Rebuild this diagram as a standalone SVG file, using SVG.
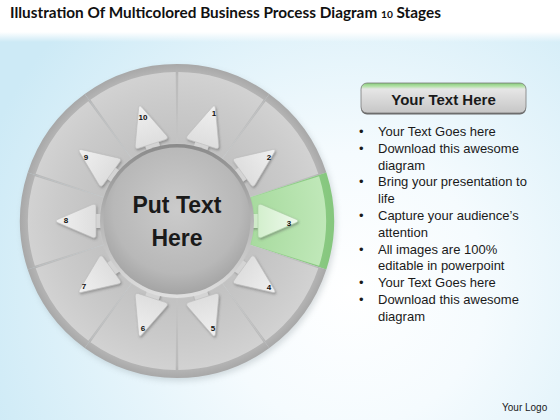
<svg xmlns="http://www.w3.org/2000/svg" width="560" height="420" viewBox="0 0 560 420">
<defs>
<style>
.t{font-family:"Liberation Sans","Arimo",sans-serif;fill:#1a1a1a}
.num{font-family:"Liberation Sans",sans-serif;font-size:8px;font-weight:bold;fill:#111;text-anchor:middle}
.bul{font-family:"Liberation Sans",sans-serif;font-size:13px;fill:#1a1a1a}
.frame{fill:url(#frameG)}
.panel{fill:url(#panelG)}
.gframe{fill:url(#gframeG)}
.gpanel{fill:url(#gpanelG)}
.arrow{fill:url(#arrowG);stroke:#bdbdbd;stroke-width:0.6}
.garrow{fill:url(#garrowG);stroke:#a9cfa3;stroke-width:0.6}
.tab{fill:#d4d4d4}
.gtab{fill:#cfeac9}
</style>
<radialGradient id="bg" gradientUnits="userSpaceOnUse" cx="350" cy="290" r="390">
<stop offset="0" stop-color="#ffffff"/><stop offset="0.35" stop-color="#f5fbfe"/><stop offset="1" stop-color="#cdeaf6"/>
</radialGradient>
<linearGradient id="fade" x1="0" y1="0" x2="0" y2="1"><stop offset="0" stop-color="#fff"/><stop offset="1" stop-color="#fff" stop-opacity="0"/></linearGradient>
<radialGradient id="frameG" gradientUnits="userSpaceOnUse" cx="0" cy="0" r="157">
<stop offset="0.5" stop-color="#c4c4c4"/><stop offset="0.92" stop-color="#bbbbbb"/><stop offset="1" stop-color="#a8a8a8"/>
</radialGradient>
<radialGradient id="panelG" gradientUnits="userSpaceOnUse" cx="0" cy="0" r="157">
<stop offset="0.5" stop-color="#c2c2c2"/><stop offset="0.75" stop-color="#cacaca"/><stop offset="0.95" stop-color="#d2d2d2"/>
</radialGradient>
<radialGradient id="gframeG" gradientUnits="userSpaceOnUse" cx="0" cy="0" r="157">
<stop offset="0.5" stop-color="#a2d69a"/><stop offset="1" stop-color="#86c77e"/>
</radialGradient>
<radialGradient id="gpanelG" gradientUnits="userSpaceOnUse" cx="0" cy="0" r="157">
<stop offset="0.5" stop-color="#a8db9f"/><stop offset="1" stop-color="#c2e9bb"/>
</radialGradient>
<linearGradient id="arrowG" x1="0" y1="0" x2="1" y2="0"><stop offset="0" stop-color="#dedede"/><stop offset="1" stop-color="#f0f0f0"/></linearGradient>
<linearGradient id="garrowG" x1="0" y1="0" x2="1" y2="0"><stop offset="0" stop-color="#d3efcd"/><stop offset="1" stop-color="#eef9ec"/></linearGradient>
<linearGradient id="ringG" x1="0" y1="0" x2="0" y2="1"><stop offset="0" stop-color="#8a8a8a"/><stop offset="1" stop-color="#e0e0e0"/></linearGradient>
<radialGradient id="diskG" cx="50%" cy="42%" r="58%"><stop offset="0" stop-color="#cbcbcb"/><stop offset="0.75" stop-color="#b8b8b8"/><stop offset="1" stop-color="#a4a4a4"/></radialGradient>
<linearGradient id="btnG" x1="0" y1="0" x2="0" y2="1">
<stop offset="0" stop-color="#86cc78"/><stop offset="0.12" stop-color="#b8e2ad"/><stop offset="0.2" stop-color="#e6e6e6"/><stop offset="1" stop-color="#c6c6c6"/>
</linearGradient>
<filter id="ds" x="-30%" y="-30%" width="160%" height="160%"><feDropShadow dx="1" dy="1.5" stdDeviation="1" flood-color="#555" flood-opacity="0.45"/></filter>
<filter id="blur" x="-10%" y="-10%" width="120%" height="120%"><feGaussianBlur stdDeviation="3"/></filter>
<path id="sec" d="M70.38,-22.87 L149.32,-48.51 A157,157 0 0 1 149.32,48.51 L70.38,22.87 A74,74 0 0 0 70.38,-22.87 Z"/>
<path id="pan" d="M74.39,-23.46 L142.1,-44.8 A149,149 0 0 1 142.1,44.8 L74.39,23.46 A78,78 0 0 0 74.39,-23.46 Z"/>
<path id="arr" d="M81,-14 L81,14 Q81,18 85,16.27 L118.96,1.73 Q123,0 118.96,-1.73 L85,-16.27 Q81,-18 81,-14 Z"/>
<rect id="tabs" x="74" y="-7" width="8" height="14"/>
</defs>

<rect width="560" height="420" fill="url(#bg)"/>
<rect width="560" height="32" fill="#fff"/>
<rect y="32" width="560" height="10" fill="url(#fade)"/>

<text x="10" y="18" font-family="Lato,'Liberation Sans',sans-serif" font-weight="bold" font-size="15" fill="#111" textLength="431" lengthAdjust="spacingAndGlyphs">Illustration Of Multicolored Business Process Diagram <tspan font-size="10">10</tspan> Stages</text>

<circle cx="179" cy="224" r="157" fill="#7f8d93" opacity="0.3" filter="url(#blur)"/>

<g id="stage1">
<use href="#sec" class="frame" transform="translate(177,221) rotate(-72)"/>
<use href="#pan" class="panel" transform="translate(177,221) rotate(-72)"/>
<g filter="url(#ds)"><g transform="translate(177,221) rotate(-72)"><use href="#tabs" class="tab"/><use href="#arr" class="arrow"/></g></g>
<text class="num" x="214" y="116">1</text>
</g>
<g id="stage2">
<use href="#sec" class="frame" transform="translate(177,221) rotate(-36)"/>
<use href="#pan" class="panel" transform="translate(177,221) rotate(-36)"/>
<g filter="url(#ds)"><g transform="translate(177,221) rotate(-36)"><use href="#tabs" class="tab"/><use href="#arr" class="arrow"/></g></g>
<text class="num" x="269" y="160">2</text>
</g>
<g id="stage3">
<use href="#sec" class="gframe" transform="translate(177,221) rotate(0)"/>
<use href="#pan" class="gpanel" transform="translate(177,221) rotate(0)"/>
<g filter="url(#ds)"><g transform="translate(177,221) rotate(0)"><use href="#tabs" class="gtab"/><use href="#arr" class="garrow"/></g></g>
<text class="num" x="289" y="226">3</text>
</g>
<g id="stage4">
<use href="#sec" class="frame" transform="translate(177,221) rotate(36)"/>
<use href="#pan" class="panel" transform="translate(177,221) rotate(36)"/>
<g filter="url(#ds)"><g transform="translate(177,221) rotate(36)"><use href="#tabs" class="tab"/><use href="#arr" class="arrow"/></g></g>
<text class="num" x="269" y="290">4</text>
</g>
<g id="stage5">
<use href="#sec" class="frame" transform="translate(177,221) rotate(72)"/>
<use href="#pan" class="panel" transform="translate(177,221) rotate(72)"/>
<g filter="url(#ds)"><g transform="translate(177,221) rotate(72)"><use href="#tabs" class="tab"/><use href="#arr" class="arrow"/></g></g>
<text class="num" x="213" y="331">5</text>
</g>
<g id="stage6">
<use href="#sec" class="frame" transform="translate(177,221) rotate(108)"/>
<use href="#pan" class="panel" transform="translate(177,221) rotate(108)"/>
<g filter="url(#ds)"><g transform="translate(177,221) rotate(108)"><use href="#tabs" class="tab"/><use href="#arr" class="arrow"/></g></g>
<text class="num" x="143" y="331">6</text>
</g>
<g id="stage7">
<use href="#sec" class="frame" transform="translate(177,221) rotate(144)"/>
<use href="#pan" class="panel" transform="translate(177,221) rotate(144)"/>
<g filter="url(#ds)"><g transform="translate(177,221) rotate(144)"><use href="#tabs" class="tab"/><use href="#arr" class="arrow"/></g></g>
<text class="num" x="84" y="289">7</text>
</g>
<g id="stage8">
<use href="#sec" class="frame" transform="translate(177,221) rotate(180)"/>
<use href="#pan" class="panel" transform="translate(177,221) rotate(180)"/>
<g filter="url(#ds)"><g transform="translate(177,221) rotate(180)"><use href="#tabs" class="tab"/><use href="#arr" class="arrow"/></g></g>
<text class="num" x="66" y="223">8</text>
</g>
<g id="stage9">
<use href="#sec" class="frame" transform="translate(177,221) rotate(216)"/>
<use href="#pan" class="panel" transform="translate(177,221) rotate(216)"/>
<g filter="url(#ds)"><g transform="translate(177,221) rotate(216)"><use href="#tabs" class="tab"/><use href="#arr" class="arrow"/></g></g>
<text class="num" x="86" y="160">9</text>
</g>
<g id="stage10">
<use href="#sec" class="frame" transform="translate(177,221) rotate(252)"/>
<use href="#pan" class="panel" transform="translate(177,221) rotate(252)"/>
<g filter="url(#ds)"><g transform="translate(177,221) rotate(252)"><use href="#tabs" class="tab"/><use href="#arr" class="arrow"/></g></g>
<text class="num" x="143" y="120">10</text>
</g>

<g id="hub">
<circle cx="177" cy="221" r="77" fill="url(#ringG)"/>
<circle cx="177" cy="221" r="73.5" fill="url(#diskG)"/>
<text class="t" x="177" y="213" font-size="23" font-weight="bold" text-anchor="middle">Put Text</text>
<text class="t" x="177" y="246" font-size="23" font-weight="bold" text-anchor="middle">Here</text>
</g>

<g id="connectors"></g>

<g id="textPanel">
<rect x="361" y="84.5" width="165" height="30" rx="6" fill="#666"/>
<rect x="361" y="83" width="165" height="30" rx="6" fill="url(#btnG)" stroke="#7a7a7a" stroke-width="0.8"/>
<text class="t" x="443.5" y="104.5" font-size="15" font-weight="bold" text-anchor="middle">Your Text Here</text>
<g class="bul">
<text x="359" y="136">•</text><text x="378" y="136">Your Text Goes here</text>
<text x="359" y="152.8">•</text><text x="378" y="152.8">Download this awesome</text>
<text x="378" y="169.6">diagram</text>
<text x="359" y="186.4">•</text><text x="378" y="186.4">Bring your presentation to</text>
<text x="378" y="203.2">life</text>
<text x="359" y="220">•</text><text x="378" y="220">Capture your audience’s</text>
<text x="378" y="236.8">attention</text>
<text x="359" y="253.6">•</text><text x="378" y="253.6">All images are 100%</text>
<text x="378" y="270.4">editable in powerpoint</text>
<text x="359" y="287.2">•</text><text x="378" y="287.2">Your Text Goes here</text>
<text x="359" y="304">•</text><text x="378" y="304">Download this awesome</text>
<text x="378" y="320.8">diagram</text>
</g>
</g>

<text class="t" x="502" y="411" font-size="10" fill="#333">Your Logo</text>
</svg>
